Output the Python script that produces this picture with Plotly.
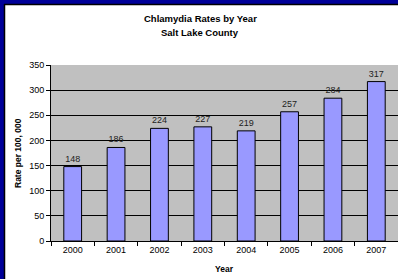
import plotly.graph_objects as go

years = ["2000", "2001", "2002", "2003", "2004", "2005", "2006", "2007"]
rates = [148, 186, 224, 227, 219, 257, 284, 317]
y_ticks = [0, 50, 100, 150, 200, 250, 300, 350]

W, H = 398, 279
L, R, T, B = 51, 0, 65, 38
pw, ph = W - L - R, H - T - B

def px_x(p):
    return (p - L) / pw

def px_y(p):
    return (H - B - p) / ph

FONT = "Liberation Sans, Arial, sans-serif"

fig = go.Figure(go.Bar(
    x=years, y=rates,
    marker=dict(color="#9999FF", line=dict(color="#000000", width=1)),
    width=0.41,
    text=[str(v) for v in rates], textposition="outside",
    textfont=dict(size=9, color="#222222", family=FONT),
    cliponaxis=False,
))

shapes = [
    dict(type="rect", xref="paper", yref="paper", x0=px_x(0), x1=px_x(4), y0=px_y(H), y1=px_y(0),
         fillcolor="#000099", line=dict(width=0), layer="above"),
    dict(type="rect", xref="paper", yref="paper", x0=px_x(0), x1=px_x(W), y0=px_y(4), y1=px_y(0),
         fillcolor="#000099", line=dict(width=0), layer="above"),
    dict(type="line", xref="paper", yref="paper", x0=px_x(4.5), x1=px_x(4.5), y0=px_y(H), y1=px_y(4),
         line=dict(color="#000000", width=1.5), layer="above"),
    dict(type="line", xref="paper", yref="paper", x0=px_x(4), x1=px_x(W), y0=px_y(4.5), y1=px_y(4.5),
         line=dict(color="#000000", width=1.5), layer="above"),
]

annotations = [
    dict(text="<b>Chlamydia Rates by Year</b>", xref="paper", yref="paper", x=px_x(200), y=px_y(19),
         showarrow=False, xanchor="center", yanchor="middle", font=dict(size=9.5, color="#000000", family=FONT)),
    dict(text="<b>Salt Lake County</b>", xref="paper", yref="paper", x=px_x(200), y=px_y(33),
         showarrow=False, xanchor="center", yanchor="middle", font=dict(size=9.5, color="#000000", family=FONT)),
    dict(text="<b>Year</b>", xref="paper", yref="paper", x=px_x(224), y=px_y(269),
         showarrow=False, xanchor="center", yanchor="middle", font=dict(size=8.5, color="#000000", family=FONT)),
    dict(text="<b>Rate per 100, 000</b>", xref="paper", yref="paper", x=px_x(18), y=px_y(153),
         showarrow=False, xanchor="center", yanchor="middle", textangle=-90,
         font=dict(size=8.5, color="#000000", family=FONT)),
]

fig.update_layout(
    width=W, height=H,
    margin=dict(l=L, r=R, t=T, b=B, autoexpand=False),
    paper_bgcolor="#FFFFFF", plot_bgcolor="#C0C0C0",
    showlegend=False,
    bargap=0.59,
    shapes=shapes, annotations=annotations,
    font=dict(family=FONT, size=9, color="#000000"),
    xaxis=dict(type="category", range=[-0.5, 7.5], showgrid=False, showline=True, linecolor="#000000",
               linewidth=1, ticks="outside", tickson="boundaries", ticklen=4, tickcolor="#000000",
               tickfont=dict(size=9, color="#000000", family=FONT), fixedrange=True),
    yaxis=dict(range=[0, 350], tickvals=y_ticks, showgrid=True, gridcolor="#000000", gridwidth=1,
               showline=True, linecolor="#000000", linewidth=1, ticks="outside", ticklen=4,
               tickcolor="#000000", zeroline=False,
               tickfont=dict(size=9, color="#000000", family=FONT), fixedrange=True),
)

fig.write_html(
    "out.html",
    config={"displayModeBar": False},
    post_script="document.body.style.margin='0';document.body.style.overflow='hidden';",
)
